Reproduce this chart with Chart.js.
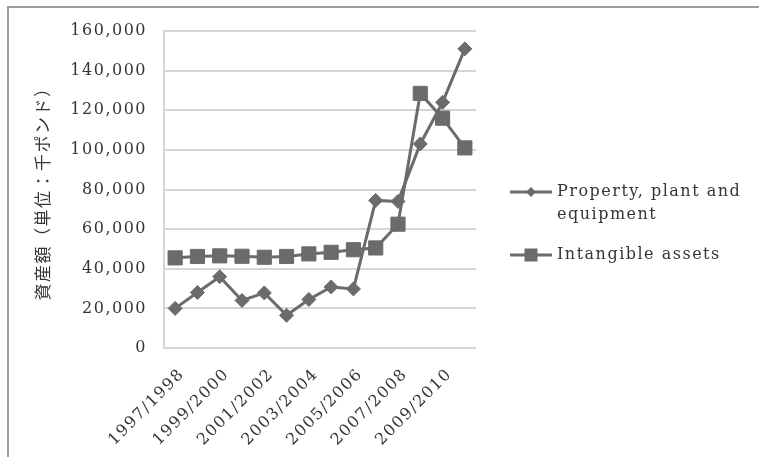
<!DOCTYPE html>
<html>
<head>
<meta charset="utf-8">
<script src="https://cdn.jsdelivr.net/npm/chart.js"></script>
<style>
  html, body { margin: 0; padding: 0; background: #ffffff; }
  #wrap { position: relative; width: 759px; height: 457px; overflow: hidden; background: #ffffff; }
  #wrap canvas { position: absolute; left: 0; top: 0; }
  #frame { position: absolute; left: 7px; top: 6px; right: -4px; bottom: -4px;
           border-top: 2px solid #9d9d9d; border-left: 2px solid #9d9d9d; pointer-events: none; }
</style>
</head>
<body>
<div id="wrap">
  <canvas id="chart" width="759" height="457"></canvas>
  <div id="frame"></div>
</div>
<script>
// Fiscal years (every other one is labelled on the axis)
const categories = [
  '1997/1998', '1998/1999', '1999/2000', '2000/2001', '2001/2002', '2002/2003', '2003/2004',
  '2004/2005', '2005/2006', '2006/2007', '2007/2008', '2008/2009', '2009/2010', '2010/2011'
];

// Asset values, thousand pounds
const propertyPlant = [20000, 28000, 36000, 24000, 27800, 16500, 24500, 30800, 29800, 74500, 74000, 103000, 124000, 151000];
const intangibleAssets = [45500, 46200, 46500, 46300, 45800, 46200, 47500, 48300, 49600, 50500, 62500, 128500, 116000, 101000];

const seriesNames = ['Property, plant and equipment', 'Intangible assets'];
const legendLines = [['Property, plant and', 'equipment'], ['Intangible assets']];

const yTicks = [0, 20000, 40000, 60000, 80000, 100000, 120000, 140000, 160000];
const yTitle = '資産額（単位：千ポンド）';

const seriesColor = '#6b6b6b';
const textColor = '#353535';
const gridColor = '#d6d6d6';
const spacing = '1.5px';

Chart.defaults.font.family = "'DejaVu Serif', serif";
Chart.defaults.color = textColor;

// Wide, evenly spaced lettering for all canvas text
const letterSpacingPlugin = {
  id: 'letterSpacingPlugin',
  beforeUpdate(chart) { chart.ctx.letterSpacing = spacing; },
  beforeLayout(chart) { chart.ctx.letterSpacing = spacing; },
  beforeDraw(chart) { chart.ctx.letterSpacing = spacing; }
};

// Legend to the right of the plot, with a wrapped first entry
const sideLegend = {
  id: 'sideLegend',
  afterDraw(chart) {
    const { ctx, chartArea } = chart;
    const x0 = chartArea.right + 34;
    const rowY = [chartArea.top + 161, chartArea.top + 224];
    const lineGap = 23;
    ctx.save();
    ctx.letterSpacing = spacing;
    ctx.font = "16px 'DejaVu Serif', serif";
    ctx.textBaseline = 'middle';
    ctx.textAlign = 'left';
    chart.data.datasets.forEach((ds, i) => {
      const y = rowY[i];
      ctx.strokeStyle = ds.borderColor;
      ctx.lineWidth = ds.borderWidth;
      ctx.beginPath();
      ctx.moveTo(x0, y);
      ctx.lineTo(x0 + 42, y);
      ctx.stroke();
      const cx = x0 + 21;
      ctx.fillStyle = ds.pointBackgroundColor;
      ctx.beginPath();
      if (ds.pointStyle === 'rect') {
        const h = 6.5;
        ctx.rect(cx - h, y - h, 2 * h, 2 * h);
      } else {
        const r = 5;
        ctx.moveTo(cx, y - r);
        ctx.lineTo(cx + r, y);
        ctx.lineTo(cx, y + r);
        ctx.lineTo(cx - r, y);
        ctx.closePath();
      }
      ctx.fill();
      ctx.fillStyle = textColor;
      legendLines[i].forEach((t, k) => ctx.fillText(t, x0 + 47, y + k * lineGap));
    });
    ctx.restore();
  }
};

new Chart(document.getElementById('chart'), {
  type: 'line',
  data: {
    labels: categories,
    datasets: [
      {
        label: seriesNames[0],
        data: propertyPlant,
        borderColor: seriesColor,
        backgroundColor: seriesColor,
        pointBackgroundColor: seriesColor,
        pointBorderColor: seriesColor,
        borderWidth: 3,
        pointStyle: 'rectRot',
        pointRadius: 7,
        pointBorderWidth: 1,
        tension: 0,
        order: 1
      },
      {
        label: seriesNames[1],
        data: intangibleAssets,
        borderColor: seriesColor,
        backgroundColor: seriesColor,
        pointBackgroundColor: seriesColor,
        pointBorderColor: seriesColor,
        borderWidth: 3,
        pointStyle: 'rect',
        pointRadius: 10,
        pointBorderWidth: 1,
        tension: 0,
        order: 0
      }
    ]
  },
  options: {
    responsive: false,
    animation: false,
    devicePixelRatio: 1,
    layout: { padding: { left: 30, top: 31, right: 283, bottom: 0 } },
    plugins: {
      legend: { display: false },
      tooltip: { enabled: false }
    },
    scales: {
      x: {
        offset: true,
        grid: { display: false, drawTicks: false },
        border: { display: false },
        ticks: {
          autoSkip: false,
          maxRotation: 45,
          minRotation: 45,
          padding: 17,
          labelOffset: 7,
          font: { size: 16 },
          color: textColor,
          callback(value, index) { return index % 2 === 0 ? categories[index] : ''; }
        },
        afterFit(scale) { scale.height = 109; }
      },
      y: {
        min: 0,
        max: 160000,
        afterBuildTicks(scale) { scale.ticks = yTicks.map(v => ({ value: v })); },
        grid: { color: gridColor, lineWidth: 2, drawTicks: false },
        border: { display: true, color: gridColor, width: 2 },
        ticks: {
          padding: 17,
          font: { size: 16 },
          color: textColor,
          callback(value) { return value.toLocaleString('en-US'); }
        },
        title: {
          display: true,
          text: yTitle,
          color: textColor,
          font: { family: "'Noto Sans CJK JP', sans-serif", size: 17 },
          padding: { top: 2, bottom: 0 }
        },
        afterFit(scale) { scale.width = 134; }
      }
    }
  },
  plugins: [letterSpacingPlugin, sideLegend]
});
</script>
</body>
</html>
